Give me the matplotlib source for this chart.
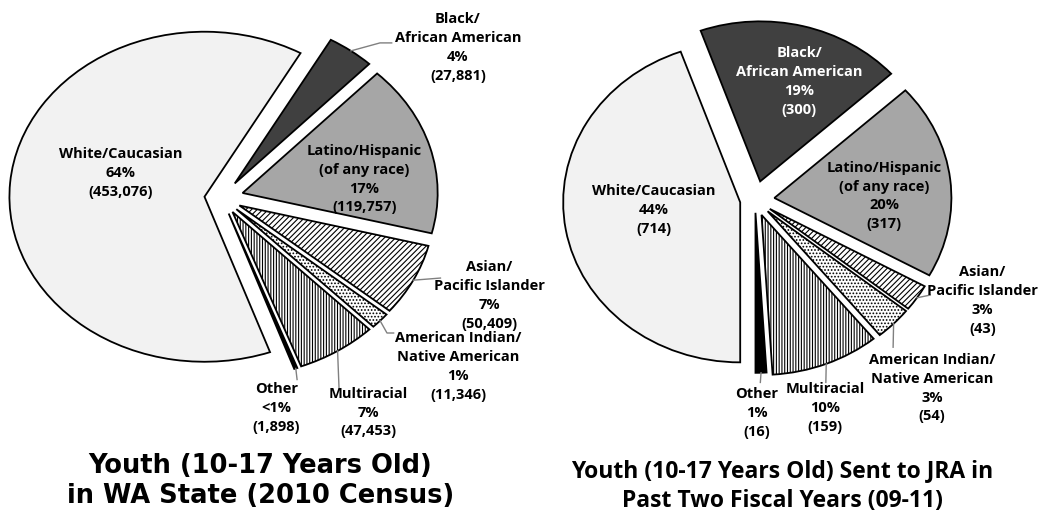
import numpy as np
import matplotlib
matplotlib.use('Agg')
import matplotlib.pyplot as plt

plt.rcParams['hatch.linewidth'] = 0.8

LBL_FONT = ['Open Sans', 'DejaVu Sans']

# ---- data ----
groups = ['Black/\nAfrican American', 'Latino/Hispanic\n(of any race)', 'Asian/\nPacific Islander',
          'American Indian/\nNative American', 'Multiracial', 'Other', 'White/Caucasian']

wa_counts = [27881, 119757, 50409, 11346, 47453, 1898, 453076]
wa_pct = ['4%', '17%', '7%', '1%', '7%', '<1%', '64%']
wa_count_lbl = ['(27,881)', '(119,757)', '(50,409)', '(11,346)', '(47,453)', '(1,898)', '(453,076)']

jra_counts = [300, 317, 43, 54, 159, 16, 714]
jra_pct = ['19%', '20%', '3%', '3%', '10%', '1%', '44%']
jra_count_lbl = ['(300)', '(317)', '(43)', '(54)', '(159)', '(16)', '(714)']

# ---- styles ----
FILLS = ['#404040', '#a6a6a6', 'white', 'white', 'white', 'black', '#f2f2f2']
HATCH = [None, None, '//////', '.....', '||||||', None, None]
TXT_COL_L = ['black'] * 7
TXT_COL_R = ['white', 'black', 'black', 'black', 'black', 'black', 'black']

C_LEAD = '#808080'
LBL_SIZE = 10.5
LBL_SPACING = 1.45


def draw_pie(ax, counts, explode, startangle, xlim, ylim):
    wedges, _ = ax.pie(counts, explode=explode, startangle=startangle, counterclock=False,
                       colors=FILLS, wedgeprops=dict(edgecolor='black', linewidth=1.3))
    for w, h in zip(wedges, HATCH):
        if h:
            w.set_hatch(h)
    ax.set_aspect('auto')
    ax.set_xlim(*xlim)
    ax.set_ylim(*ylim)
    ax.axis('off')
    return wedges


def mid_point(w, scale=1.0):
    th = np.deg2rad((w.theta1 + w.theta2) / 2)
    cx, cy = w.center
    return cx + scale * np.cos(th), cy + scale * np.sin(th)


def leader(ax, w, pts):
    x0, y0 = mid_point(w)
    xs = [x0] + [p[0] for p in pts]
    ys = [y0] + [p[1] for p in pts]
    ax.plot(xs, ys, color=C_LEAD, lw=1.0, zorder=5)


fig = plt.figure(figsize=(10.42, 5.17), dpi=100)

# ---------- left pie ----------
axL = fig.add_axes([0, 0, 0.5, 1])
wL = draw_pie(axL, wa_counts, [0.11, 0.11, 0.1, 0.1, 0.1, 0.1, 0.09], 60.5,
              (-1.138, 1.533), (-1.933, 1.2))

posL = [(1.21, 0.91), (0.73, 0.115), (1.37, -0.59), (1.21, -1.02),
        (0.75, -1.30), (0.28, -1.27), (-0.52, 0.15)]
for i, (g, p, c) in enumerate(zip(groups, wa_pct, wa_count_lbl)):
    axL.text(posL[i][0], posL[i][1], f'{g}\n{p}\n{c}', ha='center', va='center',
             fontsize=LBL_SIZE, fontweight='bold', family=LBL_FONT, color=TXT_COL_L[i],
             linespacing=LBL_SPACING, zorder=6)

leader(axL, wL[0], [(0.81, 0.94), (0.87, 0.94)])
leader(axL, wL[2], [(1.12, -0.485)])
leader(axL, wL[3], [(0.846, -0.818), (0.88, -0.818)])
leader(axL, wL[4], [(0.60, -1.15)])
leader(axL, wL[5], [(0.385, -1.10)])

# ---------- right pie ----------
axR = fig.add_axes([0.5, 0, 0.5, 1])
wR = draw_pie(axR, jra_counts, [0.12, 0.11, 0.1, 0.1, 0.1, 0.08, 0.085], 109.65,
              (-1.322, 1.621), (-1.981, 1.25))

posR = [(0.25, 0.74), (0.73, 0.025), (1.285, -0.63), (1.0, -1.175),
        (0.395, -1.30), (0.01, -1.33), (-0.57, -0.06)]
for i, (g, p, c) in enumerate(zip(groups, jra_pct, jra_count_lbl)):
    axR.text(posR[i][0], posR[i][1], f'{g}\n{p}\n{c}', ha='center', va='center',
             fontsize=LBL_SIZE, fontweight='bold', family=LBL_FONT, color=TXT_COL_R[i],
             linespacing=LBL_SPACING, zorder=6)

leader(axR, wR[2], [(0.99, -0.594)])
leader(axR, wR[3], [(0.78, -0.92)])
leader(axR, wR[4], [(0.40, -1.14)])
leader(axR, wR[5], [(0.03, -1.14)])

# ---------- titles ----------
fig.text(0.25, 0.070, 'Youth (10-17 Years Old)\nin WA State (2010 Census)', ha='center', va='center',
         fontsize=18.5, fontweight='bold', family='DejaVu Sans', linespacing=1.2)
fig.text(0.751, 0.060, 'Youth (10-17 Years Old) Sent to JRA in\nPast Two Fiscal Years (09-11)',
         ha='center', va='center', fontsize=16.5, fontweight='bold', family=LBL_FONT, linespacing=1.35)

fig.savefig('out.png', dpi=100)
